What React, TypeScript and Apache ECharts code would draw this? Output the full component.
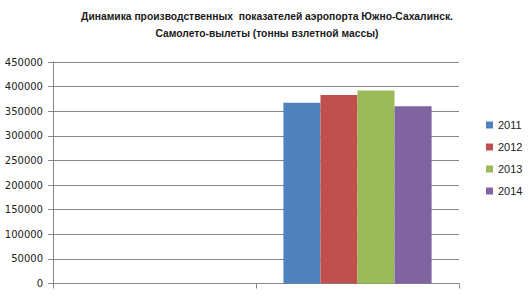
import React, { useEffect, useRef } from "react";
import * as echarts from "echarts";

const categories = ["", ""];
const seriesNames = ["2011", "2012", "2013", "2014"];
const values2011 = [null, 367000];
const values2012 = [null, 383000];
const values2013 = [null, 392000];
const values2014 = [null, 360000];
const colors = ["#4F81BD", "#C0504D", "#9BBB59", "#8064A2"];
const titleText =
  "Динамика производственных  показателей аэропорта Южно-Сахалинск.\nСамолето-вылеты (тонны взлетной массы)";

export default function App() {
  const ref = useRef<HTMLDivElement>(null);
  useEffect(() => {
    if (!ref.current) return;
    const chart = echarts.init(ref.current, undefined, { renderer: "svg" });
    const allValues = [values2011, values2012, values2013, values2014];
    chart.setOption({
      animation: false,
      backgroundColor: "#fff",
      title: {
        text: titleText,
        left: 262,
        textAlign: "center",
        top: 3,
        textStyle: {
          fontFamily: "Liberation Sans",
          fontSize: 10.3,
          fontWeight: "bold",
          color: "#1a1a1a",
          lineHeight: 17,
        },
      },
      legend: {
        orient: "vertical",
        left: 481,
        top: 114,
        itemWidth: 7,
        itemHeight: 7,
        itemGap: 10,
        icon: "rect",
        data: seriesNames,
        textStyle: { fontFamily: "Liberation Sans", fontSize: 11, color: "#222", lineHeight: 12 },
      },
      grid: { left: 53, right: 71, top: 62, bottom: 12.5, containLabel: false },
      xAxis: {
        type: "category",
        data: categories,
        axisLine: { lineStyle: { color: "#868686" } },
        axisTick: { show: true, length: 5, lineStyle: { color: "#868686" } },
        axisLabel: { show: false },
      },
      yAxis: {
        type: "value",
        min: 0,
        max: 450000,
        interval: 50000,
        axisLine: { show: true, lineStyle: { color: "#868686" } },
        axisTick: { show: true, length: 5, lineStyle: { color: "#868686" } },
        axisLabel: {
          fontFamily: "DejaVu Sans",
          fontSize: 10,
          color: "#222",
          margin: 10,
          formatter: (v: number) => String(v),
        },
        splitLine: { lineStyle: { color: "#868686" } },
      },
      series: seriesNames.map((name, i) => ({
        name,
        type: "bar",
        data: allValues[i],
        itemStyle: { color: colors[i] },
        barGap: "0%",
        barCategoryGap: "27%",
      })),
    });
    return () => chart.dispose();
  }, []);
  return (
    <div
      ref={ref}
      style={{ width: 530, height: 296, position: "absolute", left: 0, top: 0 }}
    />
  );
}
